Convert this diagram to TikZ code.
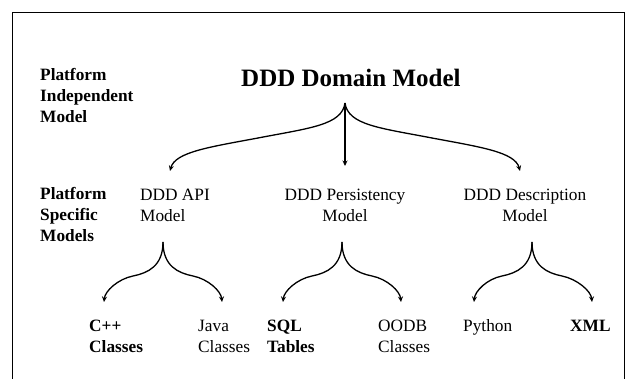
\documentclass[tikz,border=0pt]{standalone}
\usepackage{fontspec}
\setmainfont{Liberation Serif}
\usetikzlibrary{arrows.meta}

% multi-line labels are placed by the baseline of their last line
\tikzset{
  lbl/.style={anchor=base west, inner sep=0pt, align=left,
    font=\fontsize{17.3}{20.8}\selectfont},
  lblc/.style={anchor=base, inner sep=0pt, align=center,
    font=\fontsize{17.3}{20.8}\selectfont},
  bold/.style={font=\fontsize{17.3}{20.8}\selectfont\bfseries},
  title/.style={anchor=base west, inner sep=0pt,
    font=\fontsize{25}{30}\selectfont\bfseries},
  frameline/.style={line width=1.8pt},
  branch/.style={line width=1.3pt, -{Stealth[length=5.5pt,width=5pt]}},
}

\begin{document}
\begin{tikzpicture}[x=1pt, y=-1pt]
\useasboundingbox (0,0) rectangle (626,379);

% surrounding frame (open at the bottom)
\draw[frameline] (12.5,390) -- (12.5,12.5) -- (624.5,12.5);
\draw[line width=1.2pt] (624.5,12.5) -- (624.5,390);

% level labels
\node[lbl, bold] (pim) at (40,122.5) {Platform\\Independent\\Model};
\node[lbl, bold] (psm) at (40,241.5) {Platform\\Specific\\Models};

% domain model
\node[title] (domain) at (241,86.5) {DDD Domain Model};

% platform specific models
\node[lbl]  (api)  at (140,221.5) {DDD API\\Model};
\node[lblc] (pers) at (345,221.5) {DDD Persistency\\Model};
\node[lblc] (desc) at (525,221.5) {DDD Description\\Model};

% implementations
\node[lbl, bold] (cpp)    at (89,352)  {C++\\Classes};
\node[lbl]       (java)   at (198,352) {Java\\Classes};
\node[lbl, bold] (sql)    at (267,352) {SQL\\Tables};
\node[lbl]       (oodb)   at (378,352) {OODB\\Classes};
\node[lbl]       (python) at (463,331) {Python};
\node[lbl, bold] (xml)    at (570,331) {XML};

% branch points and arrow ends
\coordinate (top)    at (345,103);
\coordinate (tapi)   at (170,171);
\coordinate (tpers)  at (345,166);
\coordinate (tdesc)  at (520,171);

\coordinate (aapi)   at (163,242);
\coordinate (apers)  at (342,242);
\coordinate (adesc)  at (532,242);

\coordinate (tcpp)    at (104,302);
\coordinate (tjava)   at (222,302);
\coordinate (tsql)    at (283,302);
\coordinate (toodb)   at (401,302);
\coordinate (tpython) at (474,302);
\coordinate (txml)    at (592,302);

% domain model -> platform specific models
\draw[branch] (top) .. controls ++(-3,22) and ++(52,-10) .. ++(-87,35)
  .. controls ++(-48,9) and ++(5,-19) .. (tapi);
\draw[branch] (top) .. controls ++(3,22) and ++(-52,-10) .. ++(87,35)
  .. controls ++(48,9) and ++(-5,-19) .. (tdesc);
\draw[branch] (top) -- (tpers);

% platform specific models -> implementations
\foreach \a/\l/\r in {aapi/tcpp/tjava, apers/tsql/toodb, adesc/tpython/txml}{
  \draw[branch] (\a) .. controls ++(0,24) and ++(15,-3) .. ++(-30,34)
    .. controls ++(-15,3) and ++(1,-11) .. (\l);
  \draw[branch] (\a) .. controls ++(0,24) and ++(-15,-3) .. ++(30,34)
    .. controls ++(15,3) and ++(-1,-11) .. (\r);
}
\end{tikzpicture}
\end{document}
